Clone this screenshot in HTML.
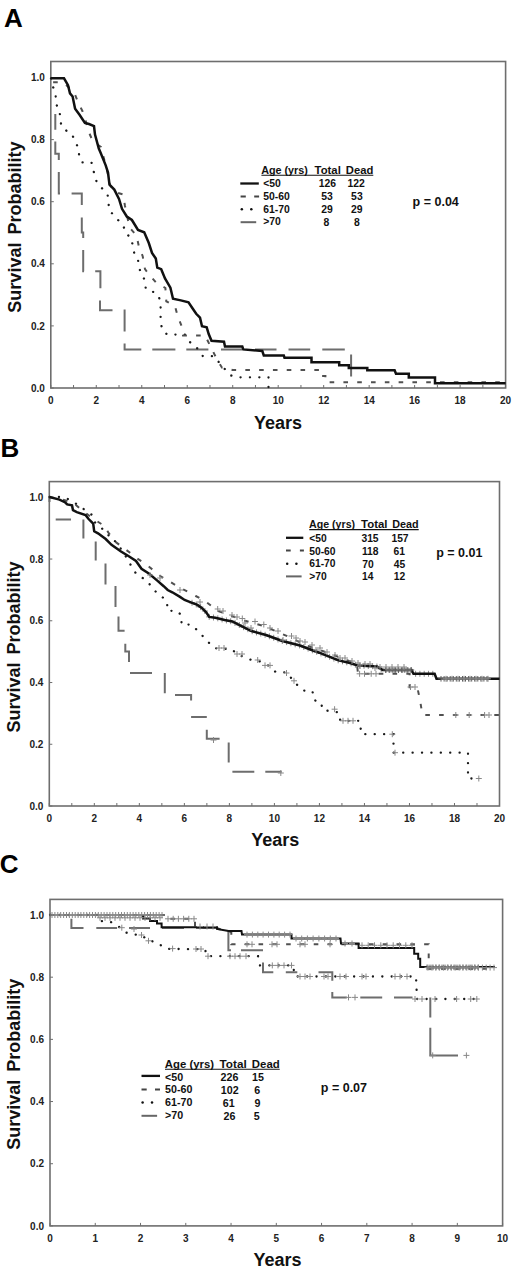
<!DOCTYPE html><html><head><meta charset="utf-8"><style>html,body{margin:0;padding:0;background:#fff;}svg{display:block;}</style></head><body>
<svg width="520" height="1272" viewBox="0 0 520 1272" font-family='"Liberation Sans", sans-serif' font-weight="bold">
<rect width="520" height="1272" fill="#fff"/>
<rect x="50.8" y="61.5" width="454.80" height="326.50" fill="none" stroke="#6e6e6e" stroke-width="1.6"/>
<path d="M50.80 388.00V385.00 M73.54 388.00V385.00 M96.28 388.00V385.00 M119.02 388.00V385.00 M141.76 388.00V385.00 M164.50 388.00V385.00 M187.24 388.00V385.00 M209.98 388.00V385.00 M232.72 388.00V385.00 M255.46 388.00V385.00 M278.20 388.00V385.00 M300.94 388.00V385.00 M323.68 388.00V385.00 M346.42 388.00V385.00 M369.16 388.00V385.00 M391.90 388.00V385.00 M414.64 388.00V385.00 M437.38 388.00V385.00 M460.12 388.00V385.00 M482.86 388.00V385.00 M505.60 388.00V385.00 M50.80 388.00H53.80 M50.80 325.90H53.80 M50.80 263.80H53.80 M50.80 201.70H53.80 M50.80 139.60H53.80 M50.80 77.50H53.80" stroke="#6e6e6e" stroke-width="1" fill="none"/>
<text x="44.8" y="391.6" font-size="10" text-anchor="end" fill="#222">0.0</text>
<text x="44.8" y="329.5" font-size="10" text-anchor="end" fill="#222">0.2</text>
<text x="44.8" y="267.4" font-size="10" text-anchor="end" fill="#222">0.4</text>
<text x="44.8" y="205.3" font-size="10" text-anchor="end" fill="#222">0.6</text>
<text x="44.8" y="143.2" font-size="10" text-anchor="end" fill="#222">0.8</text>
<text x="44.8" y="81.1" font-size="10" text-anchor="end" fill="#222">1.0</text>
<text x="50.8" y="403.5" font-size="10" text-anchor="middle" fill="#222">0</text>
<text x="96.3" y="403.5" font-size="10" text-anchor="middle" fill="#222">2</text>
<text x="141.8" y="403.5" font-size="10" text-anchor="middle" fill="#222">4</text>
<text x="187.2" y="403.5" font-size="10" text-anchor="middle" fill="#222">6</text>
<text x="232.7" y="403.5" font-size="10" text-anchor="middle" fill="#222">8</text>
<text x="278.2" y="403.5" font-size="10" text-anchor="middle" fill="#222">10</text>
<text x="323.7" y="403.5" font-size="10" text-anchor="middle" fill="#222">12</text>
<text x="369.2" y="403.5" font-size="10" text-anchor="middle" fill="#222">14</text>
<text x="414.6" y="403.5" font-size="10" text-anchor="middle" fill="#222">16</text>
<text x="460.1" y="403.5" font-size="10" text-anchor="middle" fill="#222">18</text>
<text x="505.6" y="403.5" font-size="10" text-anchor="middle" fill="#222">20</text>
<text x="4.0" y="27.0" font-size="26" fill="#000">A</text>
<text transform="translate(21.1 227.1) rotate(-90)" font-size="18" word-spacing="3" text-anchor="middle" fill="#111">Survival Probability</text>
<text x="254.0" y="428.5" font-size="18" fill="#111">Years</text>
<rect x="49.3" y="481.6" width="450.20" height="324.40" fill="none" stroke="#6e6e6e" stroke-width="1.6"/>
<path d="M49.30 806.00V803.00 M71.81 806.00V803.00 M94.32 806.00V803.00 M116.83 806.00V803.00 M139.34 806.00V803.00 M161.85 806.00V803.00 M184.36 806.00V803.00 M206.87 806.00V803.00 M229.38 806.00V803.00 M251.89 806.00V803.00 M274.40 806.00V803.00 M296.91 806.00V803.00 M319.42 806.00V803.00 M341.93 806.00V803.00 M364.44 806.00V803.00 M386.95 806.00V803.00 M409.46 806.00V803.00 M431.97 806.00V803.00 M454.48 806.00V803.00 M476.99 806.00V803.00 M499.50 806.00V803.00 M49.30 806.00H52.30 M49.30 744.26H52.30 M49.30 682.52H52.30 M49.30 620.78H52.30 M49.30 559.04H52.30 M49.30 497.30H52.30" stroke="#6e6e6e" stroke-width="1" fill="none"/>
<text x="43.3" y="809.6" font-size="10" text-anchor="end" fill="#222">0.0</text>
<text x="43.3" y="747.9" font-size="10" text-anchor="end" fill="#222">0.2</text>
<text x="43.3" y="686.1" font-size="10" text-anchor="end" fill="#222">0.4</text>
<text x="43.3" y="624.4" font-size="10" text-anchor="end" fill="#222">0.6</text>
<text x="43.3" y="562.6" font-size="10" text-anchor="end" fill="#222">0.8</text>
<text x="43.3" y="500.9" font-size="10" text-anchor="end" fill="#222">1.0</text>
<text x="49.3" y="821.5" font-size="10" text-anchor="middle" fill="#222">0</text>
<text x="94.3" y="821.5" font-size="10" text-anchor="middle" fill="#222">2</text>
<text x="139.3" y="821.5" font-size="10" text-anchor="middle" fill="#222">4</text>
<text x="184.4" y="821.5" font-size="10" text-anchor="middle" fill="#222">6</text>
<text x="229.4" y="821.5" font-size="10" text-anchor="middle" fill="#222">8</text>
<text x="274.4" y="821.5" font-size="10" text-anchor="middle" fill="#222">10</text>
<text x="319.4" y="821.5" font-size="10" text-anchor="middle" fill="#222">12</text>
<text x="364.4" y="821.5" font-size="10" text-anchor="middle" fill="#222">14</text>
<text x="409.5" y="821.5" font-size="10" text-anchor="middle" fill="#222">16</text>
<text x="454.5" y="821.5" font-size="10" text-anchor="middle" fill="#222">18</text>
<text x="499.5" y="821.5" font-size="10" text-anchor="middle" fill="#222">20</text>
<text x="0.4" y="457.2" font-size="26" fill="#000">B</text>
<text transform="translate(19.8 647.0) rotate(-90)" font-size="18" word-spacing="3" text-anchor="middle" fill="#111">Survival Probability</text>
<text x="251.2" y="845.8" font-size="18" fill="#111">Years</text>
<rect x="50.0" y="899.4" width="452.60" height="326.50" fill="none" stroke="#6e6e6e" stroke-width="1.6"/>
<path d="M50.00 1225.90V1222.90 M95.26 1225.90V1222.90 M140.52 1225.90V1222.90 M185.78 1225.90V1222.90 M231.04 1225.90V1222.90 M276.30 1225.90V1222.90 M321.56 1225.90V1222.90 M366.82 1225.90V1222.90 M412.08 1225.90V1222.90 M457.34 1225.90V1222.90 M502.60 1225.90V1222.90 M50.00 1225.90H53.00 M50.00 1163.72H53.00 M50.00 1101.54H53.00 M50.00 1039.36H53.00 M50.00 977.18H53.00 M50.00 915.00H53.00" stroke="#6e6e6e" stroke-width="1" fill="none"/>
<text x="44.0" y="1229.5" font-size="10" text-anchor="end" fill="#222">0.0</text>
<text x="44.0" y="1167.3" font-size="10" text-anchor="end" fill="#222">0.2</text>
<text x="44.0" y="1105.1" font-size="10" text-anchor="end" fill="#222">0.4</text>
<text x="44.0" y="1043.0" font-size="10" text-anchor="end" fill="#222">0.6</text>
<text x="44.0" y="980.8" font-size="10" text-anchor="end" fill="#222">0.8</text>
<text x="44.0" y="918.6" font-size="10" text-anchor="end" fill="#222">1.0</text>
<text x="50.0" y="1241.7" font-size="10" text-anchor="middle" fill="#222">0</text>
<text x="95.3" y="1241.7" font-size="10" text-anchor="middle" fill="#222">1</text>
<text x="140.5" y="1241.7" font-size="10" text-anchor="middle" fill="#222">2</text>
<text x="185.8" y="1241.7" font-size="10" text-anchor="middle" fill="#222">3</text>
<text x="231.0" y="1241.7" font-size="10" text-anchor="middle" fill="#222">4</text>
<text x="276.3" y="1241.7" font-size="10" text-anchor="middle" fill="#222">5</text>
<text x="321.6" y="1241.7" font-size="10" text-anchor="middle" fill="#222">6</text>
<text x="366.8" y="1241.7" font-size="10" text-anchor="middle" fill="#222">7</text>
<text x="412.1" y="1241.7" font-size="10" text-anchor="middle" fill="#222">8</text>
<text x="457.3" y="1241.7" font-size="10" text-anchor="middle" fill="#222">9</text>
<text x="502.6" y="1241.7" font-size="10" text-anchor="middle" fill="#222">10</text>
<text x="-0.3" y="873.2" font-size="26" fill="#000">C</text>
<text transform="translate(19.8 1064.2) rotate(-90)" font-size="18" word-spacing="3" text-anchor="middle" fill="#111">Survival Probability</text>
<text x="253.5" y="1266.0" font-size="18" fill="#111">Years</text>
<path d="M55.3 114V129.8 M55.3 141.5V153.8H58.8V160 M58.8 172V193.5H60 M71.6 193.5H81.8V205 M81.8 217.5V232.5H83.2V238 M83.2 250V271.3H84 M95.2 271.2H100.4V288.3 M100 300.4V310.2H112.5 M124.6 309.6V331.5 M124.6 343.6V349.4H141.3 M152.3 349.4H175.4 M186.3 349.4H208.4 M221 349.4H242.3 M255 349.4H276.5 M288.5 349.4H310.2 M322.3 349.4H344.8 M351.1 354.6V376.5" fill="none" stroke="#6d6d6d" stroke-width="2"/>
<path d="M51.0 78.3 L53.0 86.8 L55.7 94.0 L55.7 103.7 L59.3 109.3 L60.3 118.0 L61.3 126.1 L66.4 130.7 L72.0 134.3 L75.1 141.5 L78.2 147.6 L79.2 155.8 L81.8 162.4 L91.5 162.4 L93.5 170.1 L95.0 178.8 L99.0 185.0 L107.6 194.4 L108.6 204.0 L109.5 210.8 L114.3 215.6 L123.5 226.2 L125.8 233.5 L131.2 237.7 L132.7 245.4 L134.2 253.0 L138.0 259.2 L138.8 267.7 L145.0 280.8 L145.8 289.2 L152.9 291.7 L158.7 295.6 L160.6 304.2 L160.6 322.5 L162.5 330.2 L167.3 334.6 L185.0 334.6 L189.4 341.7 L195.2 345.6 L200.0 352.0 L202.9 356.2 L214.0 356.2 L222.0 366.0 L230.8 375.4 L238.5 377.3 L268.5 377.3 L268.5 388.0" fill="none" stroke="#1a1a1a" stroke-width="2.3" stroke-linecap="round" stroke-dasharray="0.1 9.3"/>
<path d="M51.0 78.3 L53.0 82.3 L62.0 82.3 L66.0 85.0 L74.0 92.0 L78.0 102.0 L82.6 111.5 L85.7 120.8 L88.8 132.0 L92.6 140.8 L101.0 147.0 L103.0 155.0 L107.0 170.0 L110.0 185.0 L115.0 192.0 L123.0 194.4 L125.0 206.0 L129.6 227.7 L136.5 235.4 L138.8 246.2 L142.7 256.2 L145.0 269.2 L150.4 276.2 L156.5 283.0 L165.4 288.0 L166.3 301.3 L175.0 306.2 L177.9 316.7 L181.7 326.3 L183.0 335.4 L205.0 335.4 L207.7 340.8 L212.5 350.4 L217.3 360.0 L222.0 367.7 L232.7 370.0 L322.0 370.0 L322.0 376.0 L325.4 376.0 L325.4 382.3 L505.6 382.3" fill="none" stroke="#505050" stroke-width="2" stroke-dasharray="4.6 9.2" stroke-dashoffset="-4.6"/>
<path d="M51.0 78.3 L56.0 78.3 L64.0 78.3 L68.0 85.2 L70.0 93.4 L72.6 96.5 L75.1 108.8 L79.7 115.0 L84.9 123.0 L89.0 124.0 L94.0 126.1 L95.0 134.6 L98.8 148.5 L100.5 152.5 L105.7 165.4 L108.0 172.5 L109.5 184.6 L114.3 189.6 L119.0 199.0 L122.0 208.8 L126.8 216.5 L131.9 220.0 L138.0 230.0 L144.2 232.3 L148.8 243.0 L152.0 253.0 L155.8 258.5 L157.3 267.7 L161.2 269.2 L165.0 278.5 L170.4 287.7 L173.0 298.8 L180.8 300.4 L188.5 302.3 L192.3 308.0 L196.2 313.8 L200.0 317.7 L202.0 326.3 L206.7 327.3 L208.7 334.0 L211.5 340.8 L224.0 341.7 L225.0 346.5 L242.3 346.5 L243.3 349.4 L262.3 351.0 L263.8 355.5 L283.8 355.5 L284.5 357.7 L311.5 357.7 L311.5 362.3 L339.2 362.3 L339.2 365.2 L348.8 365.2 L348.8 367.9 L367.3 367.9 L367.3 370.2 L394.6 370.2 L396.0 373.8 L408.8 373.8 L408.8 377.5 L435.0 377.5 L435.0 383.2 L505.6 383.2" fill="none" stroke="#111" stroke-width="2.5" stroke-linejoin="miter"/>
<path d="M189.0 602.8h6M192.0 599.8v6 M193.3 604.4h6M196.3 601.4v6 M197.6 607.1h6M200.6 604.1v6 M201.9 611.0h6M204.9 608.0v6 M206.2 616.9h6M209.2 613.9v6 M210.5 617.5h6M213.5 614.5v6 M214.8 618.3h6M217.8 615.3v6 M219.1 619.4h6M222.1 616.4v6 M223.4 620.4h6M226.4 617.4v6 M227.7 621.2h6M230.7 618.2v6 M232.0 622.9h6M235.0 619.9v6 M236.3 625.0h6M239.3 622.0v6 M240.6 627.2h6M243.6 624.2v6 M244.9 629.2h6M247.9 626.2v6 M249.2 631.2h6M252.2 628.2v6 M253.5 632.4h6M256.5 629.4v6 M257.8 633.6h6M260.8 630.6v6 M262.1 634.8h6M265.1 631.8v6 M266.4 636.3h6M269.4 633.3v6 M270.7 637.8h6M273.7 634.8v6 M275.0 639.4h6M278.0 636.4v6 M279.3 641.0h6M282.3 638.0v6 M283.6 642.1h6M286.6 639.1v6 M287.9 643.2h6M290.9 640.2v6 M292.2 644.3h6M295.2 641.3v6 M296.5 645.4h6M299.5 642.4v6 M300.8 647.0h6M303.8 644.0v6 M305.1 648.6h6M308.1 645.6v6 M309.4 650.3h6M312.4 647.3v6 M313.7 651.8h6M316.7 648.8v6 M318.0 653.4h6M321.0 650.4v6 M322.3 655.1h6M325.3 652.1v6 M326.6 656.8h6M329.6 653.8v6 M330.9 658.6h6M333.9 655.6v6 M335.2 660.3h6M338.2 657.3v6 M339.5 661.3h6M342.5 658.3v6 M343.8 662.3h6M346.8 659.3v6 M348.1 663.3h6M351.1 660.3v6 M352.4 664.7h6M355.4 661.7v6 M356.7 665.5h6M359.7 662.5v6 M361.0 665.8h6M364.0 662.8v6 M365.3 666.0h6M368.3 663.0v6 M369.6 666.2h6M372.6 663.2v6 M373.9 666.5h6M376.9 663.5v6 M378.2 669.1h6M381.2 666.1v6 M382.5 670.0h6M385.5 667.0v6 M386.8 670.0h6M389.8 667.0v6 M391.1 670.0h6M394.1 667.0v6 M395.4 670.0h6M398.4 667.0v6 M399.7 670.0h6M402.7 667.0v6 M404.0 670.0h6M407.0 667.0v6 M408.3 670.0h6M411.3 667.0v6 M412.6 673.8h6M415.6 670.8v6 M416.9 673.8h6M419.9 670.8v6 M421.2 673.8h6M424.2 670.8v6 M425.5 673.8h6M428.5 670.8v6 M429.8 673.8h6M432.8 670.8v6" stroke="#8c8c8c" stroke-width="1" fill="none"/>
<path d="M49.5 497.3V502 M55.7 519.4H71 M83.4 519.4V538.5 M95.7 541.4V560.6 M105.5 563.5V584.6 M115.5 586V607 M118.5 616.4V630.8H124.6 M125.3 643.8V651.4H129V662 M130 673H152 M164.8 673V693.2 M175 695H191.1V700.5 M191.1 717H206.8 M206.8 729.7V738.8H219.6 M228.7 742.5V762.6 M232.4 771.7H254.3 M265.3 771.7H281.7" fill="none" stroke="#6d6d6d" stroke-width="2"/>
<path d="M49.5 497.0 L64.3 497.0 L75.0 503.0 L92.2 515.0 L93.2 520.8 L108.0 533.8 L109.5 538.5 L115.7 541.5 L123.4 552.3 L132.9 568.8 L136.7 574.6 L143.5 578.5 L148.3 582.3 L152.1 588.0 L157.0 592.9 L162.3 597.0 L166.9 601.5 L167.7 610.8 L176.9 610.8 L181.5 615.4 L181.5 624.6 L191.5 624.6 L200.8 633.8 L205.4 639.2 L210.0 643.8 L214.6 648.2 L232.3 649.2 L236.0 653.8 L251.5 660.0 L260.8 661.5 L267.0 664.6 L276.0 672.3 L287.0 672.3 L291.5 678.5 L294.6 681.5 L298.8 687.0 L303.8 690.5 L312.5 691.2 L313.8 700.0 L321.2 702.5 L322.5 710.0 L338.5 712.3 L340.4 720.8 L359.6 720.8 L361.5 734.2 L393.5 734.2 L393.5 752.7 L468.0 752.7 L468.0 778.5 L478.8 778.5" fill="none" stroke="#1a1a1a" stroke-width="2.3" stroke-linecap="round" stroke-dasharray="0.1 9.3"/>
<path d="M49.5 497.0 L60.0 499.0 L73.0 502.5 L79.7 508.3 L92.2 518.0 L103.8 525.6 L109.5 534.2 L114.3 541.0 L122.0 546.7 L129.7 552.5 L136.5 558.0 L146.5 564.6 L160.3 576.0 L177.0 586.0 L195.7 596.0 L205.0 601.0 L217.7 610.8 L242.3 620.0 L263.8 626.0 L291.5 638.0 L305.0 645.0 L320.0 650.0 L340.0 657.5 L357.0 664.0 L358.0 673.8 L409.6 673.8 L409.6 687.3 L417.3 687.3 L420.0 700.0 L422.3 714.2 L423.0 715.0 L499.5 715.0" fill="none" stroke="#505050" stroke-width="2" stroke-dasharray="4.6 9.2" stroke-dashoffset="0"/>
<path d="M49.5 497.0 L59.5 499.6 L65.3 502.5 L67.2 504.4 L72.0 505.4 L73.0 510.2 L76.8 512.1 L85.5 515.0 L88.4 518.8 L93.2 523.7 L94.2 531.3 L98.0 533.3 L105.7 539.0 L111.5 544.8 L121.0 551.5 L128.8 556.3 L136.0 561.0 L141.5 568.8 L149.2 573.7 L157.0 580.4 L163.7 586.2 L167.7 590.0 L172.3 592.3 L180.0 596.9 L184.6 600.0 L190.8 602.3 L196.9 604.6 L201.5 607.7 L206.2 612.3 L209.2 616.9 L215.4 617.7 L224.6 620.0 L232.3 621.5 L240.0 625.4 L251.5 631.0 L266.0 635.0 L282.3 641.0 L300.0 645.5 L313.0 650.5 L319.2 652.7 L338.5 660.4 L350.0 663.0 L357.7 665.4 L377.0 666.5 L382.7 670.0 L411.5 670.0 L413.5 673.8 L434.6 673.8 L436.5 678.8 L499.5 678.8" fill="none" stroke="#111" stroke-width="2.5" stroke-linejoin="miter"/>
<path d="M50 915H162" stroke="#8a8a8a" stroke-width="1.6"/>
<path d="M71.4 918.7V928H83.5 M96.3 928H117.1 M129 928H150 M162 928H184 M196 928H217 M228.4 931V950.2H231 M241 950.2H263 M263 962.5V972.3H273.3 M285.8 972.3H297.3 M318.5 972.3H332.3V980.8 M332.3 992V997.4H346.8 M360.3 997.4H382.2 M394 997.4H412.5 M430.3 997.5V1017.6 M430.3 1027.7V1055.4H458" fill="none" stroke="#6d6d6d" stroke-width="2"/>
<path d="M50.0 915.0 L99.0 915.0 L101.0 921.2 L109.2 921.2 L116.1 924.6 L126.5 932.7 L134.6 934.6 L141.5 935.0 L148.5 940.8 L154.2 941.5 L161.2 945.4 L167.0 948.9 L205.0 949.3 L207.0 956.2 L258.0 956.2 L260.0 965.4 L293.0 965.4 L295.0 976.5 L416.0 976.5 L417.0 999.0 L480.0 999.0" fill="none" stroke="#1a1a1a" stroke-width="2.3" stroke-linecap="round" stroke-dasharray="0.1 9.3"/>
<path d="M50.0 915.0 L165.0 915.0 L165.0 918.8 L195.0 918.8 L195.0 928.0 L217.0 928.0 L227.0 932.0 L231.3 932.0 L231.3 944.3 L428.7 944.3 L428.7 968.8 L495.0 968.8" fill="none" stroke="#505050" stroke-width="2" stroke-dasharray="4.6 9.2" stroke-dashoffset="0"/>
<path d="M143.0 915.0 L143.0 918.4 L150.0 918.4 L150.0 921.0 L157.0 921.0 L157.0 923.6 L161.6 923.6 L161.6 927.2 L217.0 927.2 L217.0 929.0 L228.5 931.0 L241.5 931.0 L242.0 934.6 L291.5 934.6 L291.5 938.5 L340.5 938.5 L341.0 943.5 L358.6 943.5 L358.6 948.0 L414.2 948.0 L414.2 953.7 L418.2 953.7 L418.2 958.7 L420.2 958.7 L420.2 967.1 L495.0 967.1" fill="none" stroke="#111" stroke-width="2.0" stroke-linejoin="miter"/>
<path d="M441 678.8H487" stroke="#8a8a8a" stroke-width="2.6"/>
<path d="M438.2 678.8h5.6M441.0 676.0v5.6 M441.3 678.8h5.6M444.1 676.0v5.6 M444.3 678.8h5.6M447.1 676.0v5.6 M447.4 678.8h5.6M450.2 676.0v5.6 M450.5 678.8h5.6M453.3 676.0v5.6 M453.5 678.8h5.6M456.3 676.0v5.6 M456.6 678.8h5.6M459.4 676.0v5.6 M459.7 678.8h5.6M462.5 676.0v5.6 M462.7 678.8h5.6M465.5 676.0v5.6 M465.8 678.8h5.6M468.6 676.0v5.6 M468.9 678.8h5.6M471.7 676.0v5.6 M471.9 678.8h5.6M474.7 676.0v5.6 M475.0 678.8h5.6M477.8 676.0v5.6 M478.1 678.8h5.6M480.9 676.0v5.6 M481.1 678.8h5.6M483.9 676.0v5.6 M484.2 678.8h5.6M487.0 676.0v5.6" stroke="#5e5e5e" stroke-width="1" fill="none"/>
<path d="M386 670H411" stroke="#8a8a8a" stroke-width="2.6"/>
<path d="M383.2 670.0h5.6M386.0 667.2v5.6 M386.3 670.0h5.6M389.1 667.2v5.6 M389.4 670.0h5.6M392.2 667.2v5.6 M392.6 670.0h5.6M395.4 667.2v5.6 M395.7 670.0h5.6M398.5 667.2v5.6 M398.8 670.0h5.6M401.6 667.2v5.6 M401.9 670.0h5.6M404.8 667.2v5.6 M405.1 670.0h5.6M407.9 667.2v5.6 M408.2 670.0h5.6M411.0 667.2v5.6" stroke="#5e5e5e" stroke-width="1" fill="none"/>
<path d="M427 967.4H478" stroke="#8a8a8a" stroke-width="2.6"/>
<path d="M424.2 967.4h5.6M427.0 964.6v5.6 M427.2 967.4h5.6M430.0 964.6v5.6 M430.2 967.4h5.6M433.0 964.6v5.6 M433.2 967.4h5.6M436.0 964.6v5.6 M436.2 967.4h5.6M439.0 964.6v5.6 M439.2 967.4h5.6M442.0 964.6v5.6 M442.2 967.4h5.6M445.0 964.6v5.6 M445.2 967.4h5.6M448.0 964.6v5.6 M448.2 967.4h5.6M451.0 964.6v5.6 M451.2 967.4h5.6M454.0 964.6v5.6 M454.2 967.4h5.6M457.0 964.6v5.6 M457.2 967.4h5.6M460.0 964.6v5.6 M460.2 967.4h5.6M463.0 964.6v5.6 M463.2 967.4h5.6M466.0 964.6v5.6 M466.2 967.4h5.6M469.0 964.6v5.6 M469.2 967.4h5.6M472.0 964.6v5.6 M472.2 967.4h5.6M475.0 964.6v5.6 M475.2 967.4h5.6M478.0 964.6v5.6" stroke="#5e5e5e" stroke-width="1" fill="none"/>
<path d="M210.5 740.0h6M213.5 737.0v6 M277.8 773.0h6M280.8 770.0v6 M216.0 648.0h6M219.0 645.0v6 M221.0 648.0h6M224.0 645.0v6 M234.0 654.0h6M237.0 651.0v6 M239.0 654.0h6M242.0 651.0v6 M254.7 660.0h6M257.7 657.0v6 M262.0 665.4h6M265.0 662.4v6 M267.0 665.4h6M270.0 662.4v6 M283.5 673.0h6M286.5 670.0v6 M291.0 680.8h6M294.0 677.8v6 M331.6 709.2h6M334.6 706.2v6 M340.0 720.8h6M343.0 717.8v6 M345.0 720.8h6M348.0 717.8v6 M350.0 720.8h6M353.0 717.8v6 M389.3 734.2h6M392.3 731.2v6 M392.0 752.7h6M395.0 749.7v6 M475.8 778.5h6M478.8 775.5v6 M356.6 673.8h6M359.6 670.8v6 M361.5 673.8h6M364.5 670.8v6 M368.2 673.8h6M371.2 670.8v6 M373.0 673.8h6M376.0 670.8v6 M407.5 687.0h6M410.5 684.0v6 M412.0 687.0h6M415.0 684.0v6 M452.8 715.0h6M455.8 712.0v6 M466.2 715.0h6M469.2 712.0v6 M481.6 715.0h6M484.6 712.0v6 M486.0 715.0h6M489.0 712.0v6 M214.7 609.0h6M217.7 606.0v6 M220.0 611.0h6M223.0 608.0v6 M229.0 615.0h6M232.0 612.0v6 M234.0 617.0h6M237.0 614.0v6 M239.3 618.5h6M242.3 615.5v6 M252.0 621.5h6M255.0 618.5v6 M260.8 624.5h6M263.8 621.5v6 M267.0 628.0h6M270.0 625.0v6 M275.0 631.0h6M278.0 628.0v6 M288.5 636.0h6M291.5 633.0v6 M293.0 638.0h6M296.0 635.0v6 M297.0 641.0h6M300.0 638.0v6 M302.0 642.0h6M305.0 639.0v6 M309.0 645.0h6M312.0 642.0v6 M317.0 648.0h6M320.0 645.0v6 M324.0 652.0h6M327.0 649.0v6 M332.0 655.0h6M335.0 652.0v6 M342.0 658.0h6M345.0 655.0v6 M349.0 661.0h6M352.0 658.0v6 M355.0 663.0h6M358.0 660.0v6 M362.0 664.0h6M365.0 661.0v6 M367.0 664.0h6M370.0 661.0v6 M377.0 667.0h6M380.0 664.0v6 M383.0 667.0h6M386.0 664.0v6 M389.0 667.0h6M392.0 664.0v6 M395.0 667.0h6M398.0 664.0v6 M401.0 667.0h6M404.0 664.0v6 M443.0 678.8h6M446.0 675.8v6 M449.0 678.8h6M452.0 675.8v6 M455.0 678.8h6M458.0 675.8v6 M461.0 678.8h6M464.0 675.8v6 M467.0 678.8h6M470.0 675.8v6 M473.0 678.8h6M476.0 675.8v6 M479.0 678.8h6M482.0 675.8v6 M485.0 678.8h6M488.0 675.8v6 M147.0 575.0h6M150.0 572.0v6 M157.0 578.0h6M160.0 575.0v6 M177.0 590.0h6M180.0 587.0v6 M197.0 602.0h6M200.0 599.0v6 M242.0 623.0h6M245.0 620.0v6 M248.0 628.0h6M251.0 625.0v6 M280.0 640.0h6M283.0 637.0v6 M313.0 650.0h6M316.0 647.0v6 M337.0 658.0h6M340.0 655.0v6 M357.0 666.0h6M360.0 663.0v6 M372.0 668.0h6M375.0 665.0v6" stroke="#888" stroke-width="1" fill="none"/>
<path d="M49.0 915.0h6M52.0 912.0v6 M51.9 915.0h6M54.9 912.0v6 M54.8 915.0h6M57.8 912.0v6 M57.7 915.0h6M60.7 912.0v6 M60.6 915.0h6M63.6 912.0v6 M63.5 915.0h6M66.5 912.0v6 M66.4 915.0h6M69.4 912.0v6 M69.3 915.0h6M72.3 912.0v6 M72.2 915.0h6M75.2 912.0v6 M75.1 915.0h6M78.1 912.0v6 M77.9 915.0h6M80.9 912.0v6 M80.8 915.0h6M83.8 912.0v6 M83.7 915.0h6M86.7 912.0v6 M86.6 915.0h6M89.6 912.0v6 M89.5 915.0h6M92.5 912.0v6 M92.4 915.0h6M95.4 912.0v6 M95.3 915.0h6M98.3 912.0v6 M98.2 915.0h6M101.2 912.0v6 M101.1 915.0h6M104.1 912.0v6 M104.0 915.0h6M107.0 912.0v6 M106.9 915.0h6M109.9 912.0v6 M109.8 915.0h6M112.8 912.0v6 M112.7 915.0h6M115.7 912.0v6 M115.6 915.0h6M118.6 912.0v6 M118.5 915.0h6M121.5 912.0v6 M121.4 915.0h6M124.4 912.0v6 M124.3 915.0h6M127.3 912.0v6 M127.2 915.0h6M130.2 912.0v6 M130.1 915.0h6M133.1 912.0v6 M132.9 915.0h6M135.9 912.0v6 M135.8 915.0h6M138.8 912.0v6 M138.7 915.0h6M141.7 912.0v6 M141.6 915.0h6M144.6 912.0v6 M144.5 915.0h6M147.5 912.0v6 M147.4 915.0h6M150.4 912.0v6 M150.3 915.0h6M153.3 912.0v6 M153.2 915.0h6M156.2 912.0v6 M156.1 915.0h6M159.1 912.0v6 M159.0 915.0h6M162.0 912.0v6 M97.0 917.8h6M100.0 914.8v6 M102.0 917.8h6M105.0 914.8v6 M107.0 917.8h6M110.0 914.8v6 M112.0 917.8h6M115.0 914.8v6 M117.0 917.8h6M120.0 914.8v6 M122.0 917.8h6M125.0 914.8v6 M127.0 917.8h6M130.0 914.8v6 M132.0 917.8h6M135.0 914.8v6 M137.0 917.8h6M140.0 914.8v6 M142.0 917.8h6M145.0 914.8v6 M147.0 917.8h6M150.0 914.8v6 M152.0 917.8h6M155.0 914.8v6 M157.0 917.8h6M160.0 914.8v6 M165.0 918.8h6M168.0 915.8v6 M170.2 918.8h6M173.2 915.8v6 M175.4 918.8h6M178.4 915.8v6 M180.6 918.8h6M183.6 915.8v6 M185.8 918.8h6M188.8 915.8v6 M191.0 918.8h6M194.0 915.8v6 M197.0 926.5h6M200.0 923.5v6 M204.0 926.5h6M207.0 923.5v6 M210.0 926.5h6M213.0 923.5v6 M244.0 934.6h6M247.0 931.6v6 M249.4 934.6h6M252.4 931.6v6 M254.8 934.6h6M257.8 931.6v6 M260.1 934.6h6M263.1 931.6v6 M265.5 934.6h6M268.5 931.6v6 M270.9 934.6h6M273.9 931.6v6 M276.2 934.6h6M279.2 931.6v6 M281.6 934.6h6M284.6 931.6v6 M287.0 934.6h6M290.0 931.6v6 M293.0 938.5h6M296.0 935.5v6 M298.7 938.5h6M301.7 935.5v6 M304.4 938.5h6M307.4 935.5v6 M310.1 938.5h6M313.1 935.5v6 M315.9 938.5h6M318.9 935.5v6 M321.6 938.5h6M324.6 935.5v6 M327.3 938.5h6M330.3 935.5v6 M333.0 938.5h6M336.0 935.5v6 M342.0 943.5h6M345.0 940.5v6 M349.0 943.5h6M352.0 940.5v6 M244.0 944.3h6M247.0 941.3v6 M249.0 944.3h6M252.0 941.3v6 M269.0 944.3h6M272.0 941.3v6 M274.0 944.3h6M277.0 941.3v6 M297.0 944.3h6M300.0 941.3v6 M302.0 944.3h6M305.0 941.3v6 M327.0 944.3h6M330.0 941.3v6 M359.0 945.3h6M362.0 942.3v6 M365.2 945.3h6M368.2 942.3v6 M371.5 945.3h6M374.5 942.3v6 M377.8 945.3h6M380.8 942.3v6 M384.0 945.3h6M387.0 942.3v6 M390.2 945.3h6M393.2 942.3v6 M396.5 945.3h6M399.5 942.3v6 M402.8 945.3h6M405.8 942.3v6 M409.0 945.3h6M412.0 942.3v6 M425.0 967.6h6M428.0 964.6v6 M428.9 967.6h6M431.9 964.6v6 M432.8 967.6h6M435.8 964.6v6 M436.6 967.6h6M439.6 964.6v6 M440.5 967.6h6M443.5 964.6v6 M444.4 967.6h6M447.4 964.6v6 M448.3 967.6h6M451.3 964.6v6 M452.2 967.6h6M455.2 964.6v6 M456.1 967.6h6M459.1 964.6v6 M459.9 967.6h6M462.9 964.6v6 M463.8 967.6h6M466.8 964.6v6 M467.7 967.6h6M470.7 964.6v6 M471.6 967.6h6M474.6 964.6v6 M475.5 967.6h6M478.5 964.6v6 M479.4 967.6h6M482.4 964.6v6 M483.2 967.6h6M486.2 964.6v6 M487.1 967.6h6M490.1 964.6v6 M491.0 967.6h6M494.0 964.6v6 M138.5 935.0h6M141.5 932.0v6 M145.5 940.8h6M148.5 937.8v6 M169.6 948.6h6M172.6 945.6v6 M193.0 949.0h6M196.0 946.0v6 M198.0 949.0h6M201.0 946.0v6 M205.0 956.2h6M208.0 953.2v6 M227.0 956.2h6M230.0 953.2v6 M232.0 956.2h6M235.0 953.2v6 M237.0 956.2h6M240.0 953.2v6 M243.0 956.2h6M246.0 953.2v6 M269.3 965.4h6M272.3 962.4v6 M275.0 965.4h6M278.0 962.4v6 M281.0 965.4h6M284.0 962.4v6 M288.5 965.4h6M291.5 962.4v6 M297.0 976.5h6M300.0 973.5v6 M302.0 976.5h6M305.0 973.5v6 M307.0 976.5h6M310.0 973.5v6 M321.0 976.5h6M324.0 973.5v6 M325.0 976.5h6M328.0 973.5v6 M337.0 976.5h6M340.0 973.5v6 M343.0 976.5h6M346.0 973.5v6 M359.0 976.5h6M362.0 973.5v6 M363.0 976.5h6M366.0 973.5v6 M392.0 976.5h6M395.0 973.5v6 M397.0 976.5h6M400.0 973.5v6 M404.0 976.5h6M407.0 973.5v6 M412.0 999.0h6M415.0 996.0v6 M419.0 999.0h6M422.0 996.0v6 M432.0 999.0h6M435.0 996.0v6 M453.6 999.0h6M456.6 996.0v6 M467.7 999.0h6M470.7 996.0v6 M473.8 999.0h6M476.8 996.0v6 M345.5 997.4h6M348.5 994.4v6 M352.0 997.4h6M355.0 994.4v6 M429.7 1055.4h6M432.7 1052.4v6 M463.4 1055.4h6M466.4 1052.4v6 M118.8 927.7h6M121.8 924.7v6 M131.0 929.0h6M134.0 926.0v6" stroke="#888" stroke-width="1" fill="none"/>
<g font-size="10.4" fill="#111">
<text x="261.2" y="173.9" textLength="46.7" lengthAdjust="spacingAndGlyphs">Age (yrs)</text>
<text x="314.6" y="173.9" textLength="26.2" lengthAdjust="spacingAndGlyphs">Total</text>
<text x="345.8" y="173.9" textLength="27.5" lengthAdjust="spacingAndGlyphs">Dead</text>
<path d="M261.4 175.3H373.3" stroke="#111" stroke-width="1.1"/>
<path d="M240.3 183.5H258.8" stroke="#111" stroke-width="2.3" fill="none"/>
<path d="M240.6 196.5H245.8M254.2 196.5H259.1" stroke="#444" stroke-width="2" fill="none"/>
<circle cx="241.8" cy="209.2" r="1.25" fill="#111"/><circle cx="251.3" cy="209.2" r="1.25" fill="#111"/>
<path d="M240.6 222.2H256.2" stroke="#666" stroke-width="2" fill="none"/>
<text x="263.2" y="186.6">&lt;50</text>
<text x="327.3" y="187.1" text-anchor="middle">126</text><text x="356.2" y="187.1" text-anchor="middle">122</text>
<text x="263.2" y="199.6">50-60</text>
<text x="327" y="200.1" text-anchor="middle">53</text><text x="356.9" y="200.1" text-anchor="middle">53</text>
<text x="263.2" y="212.5">61-70</text>
<text x="327" y="213.0" text-anchor="middle">29</text><text x="356.7" y="213.0" text-anchor="middle">29</text>
<text x="263.2" y="225.4">&gt;70</text>
<text x="326.5" y="225.9" text-anchor="middle">8</text><text x="356.9" y="225.9" text-anchor="middle">8</text>
</g>
<g font-size="10.3" fill="#111">
<text x="309.1" y="528.0" textLength="46.0" lengthAdjust="spacingAndGlyphs">Age (yrs)</text>
<text x="361.1" y="528.0" textLength="26.4" lengthAdjust="spacingAndGlyphs">Total</text>
<text x="392.3" y="528.0" textLength="26.4" lengthAdjust="spacingAndGlyphs">Dead</text>
<path d="M309.3 529.6H418.7" stroke="#111" stroke-width="1.1"/>
<path d="M286 537.8H303.3" stroke="#111" stroke-width="2.3" fill="none"/>
<path d="M286 550.5H290.7M299.9 550.5H303.9" stroke="#444" stroke-width="2" fill="none"/>
<circle cx="287.2" cy="563.7" r="1.25" fill="#111"/><circle cx="296.4" cy="563.7" r="1.25" fill="#111"/>
<path d="M286 576.4H301.6" stroke="#666" stroke-width="2" fill="none"/>
<text x="309.2" y="541.6">&lt;50</text>
<text x="370" y="542.1" text-anchor="middle">315</text><text x="400" y="542.1" text-anchor="middle">157</text>
<text x="309.2" y="554.5">50-60</text>
<text x="370.2" y="555.0" text-anchor="middle">118</text><text x="399.3" y="555.0" text-anchor="middle">61</text>
<text x="309.2" y="567.0">61-70</text>
<text x="368" y="567.5" text-anchor="middle">70</text><text x="399.6" y="567.5" text-anchor="middle">45</text>
<text x="309.2" y="579.6">&gt;70</text>
<text x="367.7" y="580.1" text-anchor="middle">14</text><text x="399.6" y="580.1" text-anchor="middle">12</text>
</g>
<g font-size="10.7" fill="#111">
<text x="164.8" y="1067.8" textLength="49.2" lengthAdjust="spacingAndGlyphs">Age (yrs)</text>
<text x="219.5" y="1067.8" textLength="27.2" lengthAdjust="spacingAndGlyphs">Total</text>
<text x="251.8" y="1067.8" textLength="27.9" lengthAdjust="spacingAndGlyphs">Dead</text>
<path d="M165.0 1069.3H279.7" stroke="#111" stroke-width="1.1"/>
<path d="M141.5 1075.9H160" stroke="#111" stroke-width="2.3" fill="none"/>
<path d="M141.5 1089.5H146.7M155 1089.5H160" stroke="#444" stroke-width="2" fill="none"/>
<circle cx="142.6" cy="1102.5" r="1.25" fill="#111"/><circle cx="152" cy="1102.5" r="1.25" fill="#111"/>
<path d="M141.5 1115.8H157.1" stroke="#666" stroke-width="2" fill="none"/>
<text x="165.0" y="1080.5">&lt;50</text>
<text x="229.5" y="1081.0" text-anchor="middle">226</text><text x="258" y="1081.0" text-anchor="middle">15</text>
<text x="165.0" y="1093.2">50-60</text>
<text x="229.7" y="1093.7" text-anchor="middle">102</text><text x="257.2" y="1093.7" text-anchor="middle">6</text>
<text x="165.0" y="1106.1">61-70</text>
<text x="228.7" y="1106.6" text-anchor="middle">61</text><text x="257.5" y="1106.6" text-anchor="middle">9</text>
<text x="165.0" y="1119.3">&gt;70</text>
<text x="229.5" y="1119.8" text-anchor="middle">26</text><text x="256.7" y="1119.8" text-anchor="middle">5</text>
</g>
<text x="412.6" y="206.2" font-size="12.5" fill="#111">p = 0.04</text>
<text x="436.2" y="556.5" font-size="12.5" fill="#111">p = 0.01</text>
<text x="320.8" y="1092" font-size="12.5" fill="#111">p = 0.07</text>
</svg></body></html>
